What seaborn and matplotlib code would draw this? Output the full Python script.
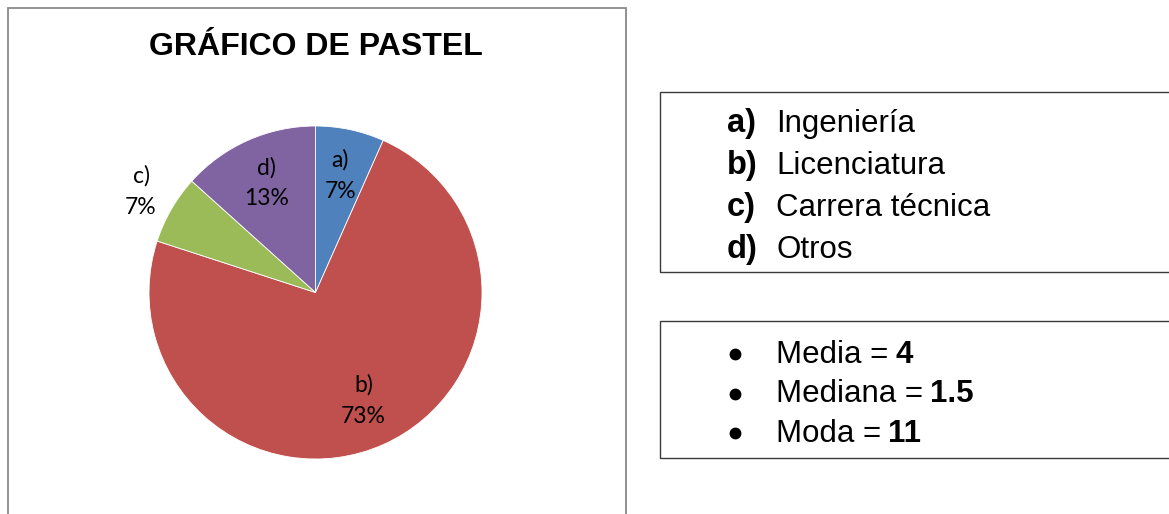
import matplotlib
matplotlib.use("Agg")
import matplotlib.pyplot as plt
from matplotlib.patches import Rectangle
from matplotlib.lines import Line2D
import numpy as np
import seaborn as sns

# data
letras = ["a)", "b)", "c)", "d)"]
categorias = ["Ingeniería", "Licenciatura", "Carrera técnica", "Otros"]
frecuencias = [1, 11, 1, 2]
colores = ["#4F81BD", "#C0504D", "#9BBB59", "#8064A2"]
estadisticos = ["Media", "Mediana", "Moda"]
valores_est = ["4", "1.5", "11"]

sns.set_style("white")
plt.rcParams["font.family"] = ["Liberation Sans", "DejaVu Sans"]
plt.rcParams["text.color"] = "black"

W, H = 1169, 514
fig = plt.figure(figsize=(W / 100, H / 100), dpi=100)


def fx(x):
    return x / W


def fy(y):
    return 1 - y / H


# chart frame
fig.add_artist(Rectangle((fx(8), fy(530)), fx(626) - fx(8), fy(8) - fy(530),
                         transform=fig.transFigure, fill=False,
                         edgecolor="#898989", lw=1.3))
fig.text(fx(316), fy(47), "GRÁFICO DE PASTEL", ha="center", va="center",
         fontsize=23, fontweight="bold")

# pie
cx, cy, r = 315.5, 292.5, 166.5
ax = fig.add_axes([fx(cx - r), fy(cy + r), 2 * r / W, 2 * r / H])
wedges, _ = ax.pie(frecuencias, colors=colores, startangle=90,
                   counterclock=False, radius=1,
                   wedgeprops=dict(linewidth=0.6, edgecolor="white"))
ax.set_xlim(-1, 1)
ax.set_ylim(-1, 1)
ax.set_aspect("equal")
ax.axis("off")

total = sum(frecuencias)
dist = [0.72, 0.71, 1.21, 0.72]
for w, letra, f, d in zip(wedges, letras, frecuencias, dist):
    ang = np.deg2rad((w.theta1 + w.theta2) / 2)
    ax.text(d * np.cos(ang), d * np.sin(ang), f"{letra}\n{round(100 * f / total)}%",
            ha="center", va="center", fontsize=16.5, family=["Lato", "DejaVu Sans"],
            linespacing=1.6, clip_on=False)

# legend box
fig.add_artist(Rectangle((fx(660), fy(272)), fx(1180) - fx(660), fy(92) - fy(272),
                         transform=fig.transFigure, fill=False,
                         edgecolor="#3a3a3a", lw=1.0))
for i, (letra, cat) in enumerate(zip(letras, categorias)):
    yb = 132 + 42 * i
    fig.text(fx(727), fy(yb), letra, ha="left", va="baseline",
             fontsize=23.5, fontweight="bold")
    fig.text(fx(776), fy(yb), cat, ha="left", va="baseline", fontsize=22.5)

# stats box
fig.add_artist(Rectangle((fx(660), fy(458)), fx(1180) - fx(660), fy(321) - fy(458),
                         transform=fig.transFigure, fill=False,
                         edgecolor="#3a3a3a", lw=1.0))
renderer = fig.canvas.get_renderer()
for i, (nom, val) in enumerate(zip(estadisticos, valores_est)):
    yb = 363 + 39.5 * i
    fig.add_artist(Line2D([fx(735)], [fy(yb - 9)], marker="o", markersize=7.5,
                          color="black", transform=fig.transFigure))
    t = fig.text(fx(776), fy(yb), f"{nom} =", ha="left", va="baseline", fontsize=22.5)
    bb = t.get_window_extent(renderer)
    fig.text(fx(bb.x1 + 7), fy(yb), val, ha="left", va="baseline",
             fontsize=22.5, fontweight="bold")

fig.savefig("out.png", dpi=100, facecolor="white")
